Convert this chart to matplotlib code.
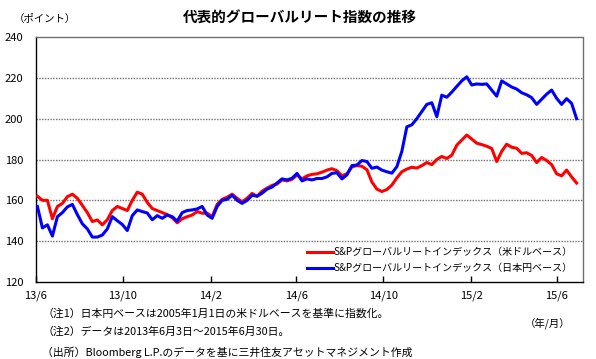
import matplotlib
matplotlib.use("Agg")
import matplotlib.pyplot as plt
import pandas as pd

plt.rcParams['font.family'] = ['Noto Sans CJK JP', 'DejaVu Sans']

title = "代表的グローバルリート指数の推移"
unit_label = "（ポイント）"
xunit_label = "（年/月）"
series_names = ["S&Pグローバルリートインデックス（米ドルベース）",
                "S&Pグローバルリートインデックス（日本円ベース）"]
notes = ["（注1）日本円ベースは2005年1月1日の米ドルベースを基準に指数化。",
         "（注2）データは2013年6月3日～2015年6月30日。",
         "（出所）Bloomberg L.P.のデータを基に三井住友アセットマネジメント作成"]

dates = pd.date_range("2013-06-03", periods=109, freq="7D")

usd = [162, 160, 160, 151, 157, 158.5, 161.8, 163, 161, 157.5,
       154, 149.6, 150.4, 148, 150.5, 155, 157, 156, 155, 160,
       164, 163, 159, 156, 155, 154, 153, 151.5, 149, 151,
       152, 152.8, 154.5, 153.7, 153.7, 152, 158, 160.5, 161.5, 163,
       161, 159.3, 161, 163.4, 162, 164.5, 166, 167.3, 168, 170,
       169.5, 170.3, 172.4, 170.5, 172, 172.7, 173, 173.8, 174.8, 175.5,
       174.5, 172, 173, 176.4, 177, 176.7, 175, 169, 165.5, 164.3,
       165.3, 167.5, 171, 174, 175.3, 176.2, 175.8, 177, 178.5, 177.5,
       180, 181.5, 180.5, 182.1, 187, 189.5, 192, 190, 188, 187.3,
       186.5, 185.4, 179, 184, 187.5, 186, 185.5, 183, 183.3, 182,
       178.5, 181, 179.5, 177.5, 173, 172, 174.8, 171.5, 168.5]

jpy = [157, 146.5, 148, 142.5, 152, 154, 156.8, 158, 153, 148.5,
       146, 142, 142, 143, 146, 152, 150, 148.2, 145.2, 152.5,
       155.3, 154.5, 153.8, 150.5, 152.5, 151.2, 152.8, 152, 149.8, 154,
       155, 155.3, 155.8, 157, 152.8, 151.2, 157, 160, 160.5, 162.5,
       160, 158.5, 160, 162.5, 162, 163.5, 165.5, 166.5, 168.5, 170.5,
       170, 170.8, 173.2, 169.5, 170.5, 170, 170.7, 170.7, 171.5, 173.2,
       173.5, 170.5, 172.5, 177, 177.3, 179.5, 179, 175.7, 176.3, 174.8,
       174, 173.3, 176.5, 184, 196, 197, 200, 203.5, 207, 207.8,
       201, 211.5, 210.5, 213, 215.8, 218.5, 220.5, 216.5, 217, 216.8,
       217, 214, 211, 218.5, 217, 215.5, 214.5, 212.7, 211.7, 210.3,
       207, 209.5, 212, 214, 210, 207, 209.8, 207.5, 200]

tick_dates = ["2013-06-01", "2013-10-01", "2014-02-01", "2014-06-01",
              "2014-10-01", "2015-02-01", "2015-06-01"]
tick_labels = ["13/6", "13/10", "14/2", "14/6", "14/10", "15/2", "15/6"]
yticks = [120, 140, 160, 180, 200, 220, 240]

fig = plt.figure(figsize=(5.96, 3.59), dpi=100)
ax = fig.add_axes([36/596, 1-282/359, 547/596, 245/359])

ax.plot(dates, usd, color="#ff0000", lw=2.2, label=series_names[0], zorder=3)
ax.plot(dates, jpy, color="#0000ff", lw=2.2, label=series_names[1], zorder=4)

ax.set_ylim(120, 240)
ax.set_xlim(pd.Timestamp("2013-06-01"), pd.Timestamp("2015-07-08"))
ax.set_yticks(yticks)
ax.set_yticklabels([str(v) for v in yticks], fontsize=8)
ax.set_xticks(pd.to_datetime(tick_dates))
ax.set_xticklabels(tick_labels, fontsize=8)
ax.tick_params(axis='y', length=0, pad=9)
ax.tick_params(axis='x', direction='in', length=4, width=1, pad=6)

for v in yticks[1:-1]:
    ax.axhline(v, color="#707070", lw=1, ls=(0, (1, 1)), zorder=1)
for s in ["top", "right"]:
    ax.spines[s].set_color("#707070")
    ax.spines[s].set_linestyle((0, (1, 1)))
    ax.spines[s].set_linewidth(1)
for s in ["left", "bottom"]:
    ax.spines[s].set_color("black")
    ax.spines[s].set_linewidth(1)

leg = ax.legend(loc="lower left", bbox_to_anchor=(0.495, 0.035), frameon=False,
                fontsize=7.2, handlelength=2.6, handletextpad=0.1,
                labelspacing=0.6, borderpad=0, borderaxespad=0)

fig.text(300/596, 1-18/359, title, ha="center", va="center",
         fontsize=10.5, fontweight="bold")
fig.text(14/596, 1-19/359, unit_label, ha="left", va="center", fontsize=7.5)
fig.text(570/596, 1-323/359, xunit_label, ha="right", va="center", fontsize=7.5)
for y, t in zip([313, 332, 352], notes):
    fig.text(42/596, 1-y/359, t, ha="left", va="center", fontsize=7.8)

fig.savefig("out.png", dpi=100)
